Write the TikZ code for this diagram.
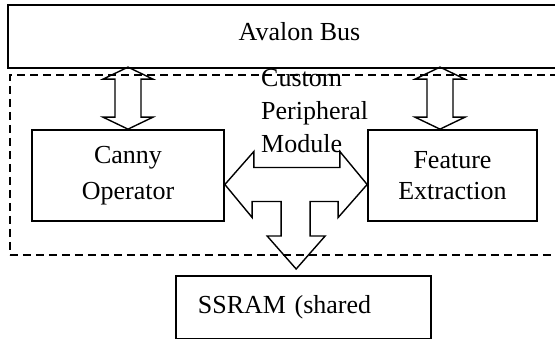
\documentclass[tikz,border=0pt]{standalone}
\usepackage{fontspec}
\setmainfont{Liberation Serif}
\usetikzlibrary{positioning}

\begin{document}
\begin{tikzpicture}[x=1pt,y=-1pt,
  font=\fontsize{26}{33}\selectfont,
  blockbox/.style={draw,line width=1.7pt,align=center,inner sep=0pt},
  modbox/.style={draw,dashed,dash pattern=on 8pt off 5pt,line width=1.8pt,inner sep=0pt},
  fatarrow/.style={draw,line width=1.4pt,line join=miter}]

\useasboundingbox (0,0) rectangle (555,339);
\clip (0,0) rectangle (555,339);

\node[blockbox,minimum width=583pt,minimum height=63pt,text depth=10pt] (bus) at (299.5,36.5) {Avalon Bus};

\node[modbox,minimum width=600pt,minimum height=180pt,anchor=north west] (peri) at (9,74) {};

\node[align=left,inner sep=0pt,anchor=north west] (perilbl) at (261,69.5) {Custom\\Peripheral\\Module};

\node[blockbox,minimum width=192pt,minimum height=91pt,font=\fontsize{26}{36}\selectfont] (canny) at (128,175.5) {Canny\\Operator};

\node[blockbox,minimum width=169pt,minimum height=91pt,font=\fontsize{26}{31}\selectfont] (feat) at (452.5,175.5) {Feature\\Extraction};

\node[blockbox,anchor=north west,minimum width=255pt,minimum height=63pt,text width=211pt,inner xsep=22pt,align=left] (ssram) at (175,275) {SSRAM (shared};

% bus <-> blocks
\draw[fatarrow] (canny.north) -- ++(25,-12) -- ++(-12,0) -- ++(0,-38) -- ++(12,0) -- ++(-25,-12)
  -- ++(-25,12) -- ++(12,0) -- ++(0,38) -- ++(-12,0) -- cycle;

\coordinate (feattop) at ([xshift=-12.5pt]feat.north);
\draw[fatarrow] (feattop) -- ++(25,-12) -- ++(-12,0) -- ++(0,-38) -- ++(12,0) -- ++(-25,-12)
  -- ++(-25,12) -- ++(12,0) -- ++(0,38) -- ++(-12,0) -- cycle;

% blocks <-> ssram
\coordinate (tl) at ([yshift=-9pt]canny.east);
\coordinate (tr) at ([yshift=-9pt]feat.west);
\draw[fatarrow] (tl) -- ++(29,-33) -- ++(0,16) -- ++(86,0) -- ++(0,-16) -- (tr)
  -- ++(-29,33) -- ++(0,-16) -- ++(-28,0) -- ++(0,34.5) -- ++(15,0) -- ++(-29,33)
  -- ++(-29,-33) -- ++(14,0) -- ++(0,-34.5) -- ++(-29,0) -- ++(0,16) -- cycle;

\end{tikzpicture}
\end{document}
